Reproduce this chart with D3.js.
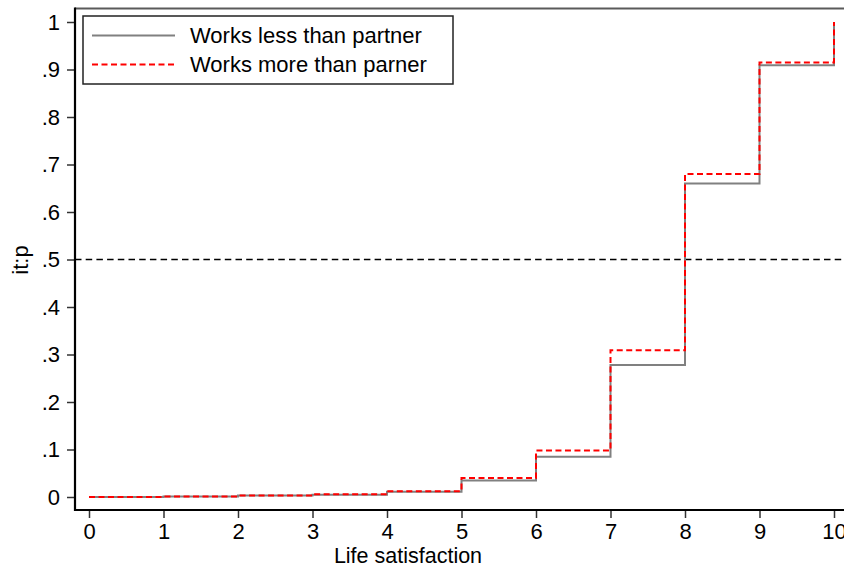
<!DOCTYPE html>
<html>
<head>
<meta charset="utf-8">
<script src="https://cdn.jsdelivr.net/npm/d3@7"></script>
<style>
  html, body { margin: 0; padding: 0; background: #fff; }
  svg { display: block; font-family: "Liberation Sans", Arial, sans-serif; }
</style>
</head>
<body>
<svg id="chart" width="844" height="568"></svg>
<script>
// Life satisfaction score (0-10)
const scores = [0, 1, 2, 3, 4, 5, 6, 7, 8, 9, 10];
// Cumulative share by score, per group
const worksLess = [0, 0.001, 0.003, 0.005, 0.011, 0.035, 0.085, 0.278, 0.660, 0.909, 1];
const worksMore = [0, 0.001, 0.003, 0.006, 0.012, 0.040, 0.098, 0.309, 0.680, 0.915, 1];
const seriesNames = ["Works less than partner", "Works more than parner"];
const yTickValues = [0, 0.1, 0.2, 0.3, 0.4, 0.5, 0.6, 0.7, 0.8, 0.9, 1];
const yTickLabels = ["0", ".1", ".2", ".3", ".4", ".5", ".6", ".7", ".8", ".9", "1"];
const referenceLevel = 0.5;

const svg = d3.select("#chart");
const frame = { left: 75, right: 844, top: 8.5, bottom: 510 };
const FONT = 22;

const x = d3.scaleLinear().domain([0, 10]).range([89, 834]);
const y = d3.scaleLinear().domain([0, 1]).range([497, 22]);

// Top edge of the plot region
svg.append("line")
  .attr("x1", frame.left).attr("x2", frame.right)
  .attr("y1", frame.top).attr("y2", frame.top)
  .attr("stroke", "#5a5a5a").attr("stroke-width", 2);

// Reference line at 0.5
svg.append("line")
  .attr("x1", frame.left).attr("x2", frame.right)
  .attr("y1", y(referenceLevel)).attr("y2", y(referenceLevel))
  .attr("stroke", "#000").attr("stroke-width", 1.6)
  .attr("stroke-dasharray", "6.5,4.2");

// Step curves
const stepLine = d3.line()
  .x((d, i) => x(scores[i]))
  .y(d => y(d))
  .curve(d3.curveStepAfter);

svg.append("path")
  .datum(worksLess)
  .attr("d", stepLine)
  .attr("fill", "none")
  .attr("stroke", "#808080")
  .attr("stroke-width", 2);

svg.append("path")
  .datum(worksMore)
  .attr("d", stepLine)
  .attr("fill", "none")
  .attr("stroke", "#ff0000")
  .attr("stroke-width", 2)
  .attr("stroke-dasharray", "6,3.5");

// X axis
const xAxis = d3.axisBottom(x)
  .tickValues(scores)
  .tickFormat(d3.format("d"))
  .tickSize(8)
  .tickPadding(5.5);
const gx = svg.append("g")
  .attr("transform", `translate(0,${frame.bottom})`)
  .call(xAxis);
gx.select(".domain").remove();
gx.selectAll(".tick line").attr("stroke", "#333").attr("stroke-width", 1.5);
gx.selectAll(".tick text")
  .attr("font-size", FONT).attr("font-family", "Liberation Sans, Arial, sans-serif")
  .attr("fill", "#000");
svg.append("line")
  .attr("x1", frame.left - 1).attr("x2", frame.right)
  .attr("y1", frame.bottom).attr("y2", frame.bottom)
  .attr("stroke", "#000").attr("stroke-width", 2.2);

// Y axis
const yAxis = d3.axisLeft(y)
  .tickValues(yTickValues)
  .tickFormat((d, i) => yTickLabels[i])
  .tickSize(8)
  .tickPadding(7);
const gy = svg.append("g")
  .attr("transform", `translate(${frame.left},0)`)
  .call(yAxis);
gy.select(".domain").remove();
gy.selectAll(".tick line").attr("stroke", "#333").attr("stroke-width", 1.5);
gy.selectAll(".tick text")
  .attr("font-size", FONT).attr("font-family", "Liberation Sans, Arial, sans-serif")
  .attr("fill", "#000");
svg.append("line")
  .attr("x1", frame.left).attr("x2", frame.left)
  .attr("y1", frame.top - 1).attr("y2", frame.bottom + 1)
  .attr("stroke", "#000").attr("stroke-width", 2.2);

// Axis titles
svg.append("text")
  .attr("x", 408).attr("y", 563.3)
  .attr("text-anchor", "middle")
  .attr("font-size", 21.5)
  .text("Life satisfaction");

svg.append("text")
  .attr("transform", "translate(28,260) rotate(-90)")
  .attr("text-anchor", "middle")
  .attr("font-size", FONT)
  .text("it:p");

// Legend
const legend = svg.append("g");
legend.append("rect")
  .attr("x", 83).attr("y", 16)
  .attr("width", 370).attr("height", 68)
  .attr("fill", "#fff")
  .attr("stroke", "#222").attr("stroke-width", 1.5);

const legendRows = [
  { name: seriesNames[0], color: "#808080", dash: null, cy: 35.5 },
  { name: seriesNames[1], color: "#ff0000", dash: "6,3.5", cy: 64.5 }
];
legendRows.forEach(r => {
  legend.append("line")
    .attr("x1", 92).attr("x2", 175)
    .attr("y1", r.cy).attr("y2", r.cy)
    .attr("stroke", r.color).attr("stroke-width", 2)
    .attr("stroke-dasharray", r.dash);
  legend.append("text")
    .attr("x", 190).attr("y", r.cy)
    .attr("dy", "0.35em")
    .attr("font-size", FONT)
    .text(r.name);
});
</script>
</body>
</html>
